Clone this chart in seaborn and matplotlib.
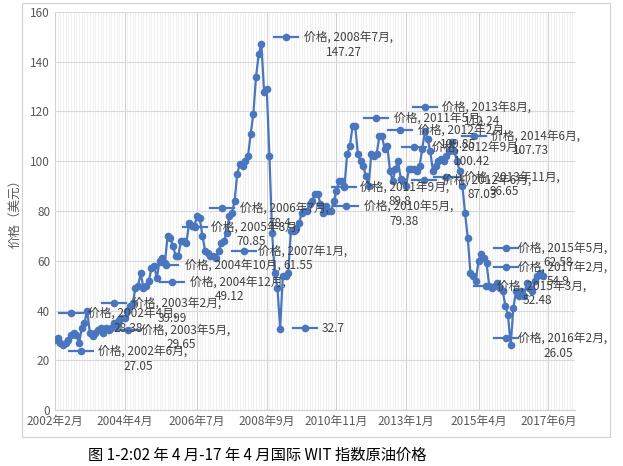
import matplotlib
matplotlib.use("Agg")
import matplotlib.pyplot as plt
from matplotlib import font_manager as fm
import seaborn as sns
import pandas as pd
import numpy as np

for f in fm.findSystemFonts():
    if "NotoSansCJK" in f.replace(" ", "") or "NotoSansSC" in f.replace(" ", ""):
        try:
            fm.fontManager.addfont(f)
        except Exception:
            pass
names = {e.name for e in fm.fontManager.ttflist}
fam = [n for n in ["Noto Sans CJK SC", "Noto Sans CJK JP", "Noto Sans SC"] if n in names]
plt.rcParams["font.family"] = "sans-serif"
plt.rcParams["font.sans-serif"] = fam + ["DejaVu Sans"]

prices = [
    28, 29, 27, 26, 27, 28, 30, 31, 30, 27, 33,
    35, 40, 31, 29.65, 31, 32, 33, 31, 33, 32, 33, 35,
    34, 36, 37, 37, 40, 42, 43, 49, 50, 55, 49, 50,
    52, 57, 58, 53, 60, 61, 59, 70, 69, 66, 62, 62,
    68, 68, 67, 75, 74, 74, 78, 77, 70, 64, 63, 62,
    62, 61, 64, 67, 68, 71, 78, 79, 84, 95, 99, 98,
    100, 102, 111, 119, 134, 143, 147.27, 128, 129, 102, 71, 55,
    49, 32.7, 54, 54, 55, 72, 72, 73, 75, 79, 80, 80,
    83, 84, 87, 87, 83, 79, 82, 80, 80, 84, 88, 92,
    92, 90, 103, 106, 114, 114, 103, 100, 98, 94, 90, 103,
    102, 103, 110, 110, 105, 106, 96, 92, 97, 100, 93, 92,
    90, 97, 97, 97, 96, 98, 105, 112, 109, 104, 96, 98,
    100, 101, 100, 102, 104, 107.73, 104, 100, 96, 90, 79, 69,
    55, 54, 52, 60, 62.58, 61, 59, 50, 49, 50, 51, 49,
    48, 42, 38, 26.05, 41, 48, 46, 48, 46, 51, 49, 48,
    52, 54, 55, 54,
]
tick_labels = ["2002年2月", "2004年4月", "2006年7月", "2008年9月",
               "2010年11月", "2013年1月", "2015年4月", "2017年6月"]
tick_months = [0, 26, 53, 79, 105, 131, 158, 184]
y_ticks = [0, 20, 40, 60, 80, 100, 120, 140, 160]

label_texts = [
    "价格, 2008年7月,\n147.27", "价格, 2013年8月,\n112.24", "价格, 2011年5月,",
    "价格, 2012年2月,\n109.85", "价格, 2014年6月,\n107.73", "价格, 2012年9月,\n100.42",
    "价格, 2013年11月,\n96.65", "价格, 2010年5月,\n79.38", "价格, 2006年7月,\n78.4",
    "价格, 2005年8月,\n70.85", "价格, 2007年1月,\n61.55", "价格, 2004年10月,",
    "价格, 2004年12月,\n49.12", "价格, 2003年2月,\n39.99", "价格, 2002年4月,\n28.38",
    "价格, 2003年5月,\n29.65", "价格, 2002年6月,\n27.05", "32.7",
    "价格, 2015年5月,\n62.58", "价格, 2017年2月,\n54.9", "价格, 2015年3月,\n52.48",
    "价格, 2016年2月,\n26.05", "价格, 2012年6月,\n87.03", "价格, 2011年9月,\n89.8",
]
label_pos = [
    (715, 112, 760), (1062, 320, 1105), (940, 355, 985),
    (1000, 390, 1045), (1185, 407, 1228), (1035, 440, 1080),
    (1115, 530, 1160), (865, 618, 910), (555, 625, 600),
    (488, 680, 528), (610, 752, 645), (415, 795, 462),
    (430, 845, 475), (285, 910, 330), (178, 940, 220),
    (320, 990, 352), (203, 1053, 245), (762, 985, 805),
    (1265, 743, 1295), (1265, 800, 1295), (1215, 857, 1243),
    (1265, 1015, 1295), (1060, 540, 1105), (860, 560, 900),
]

W, H = 623, 466
fig = plt.figure(figsize=(W / 100, H / 100), dpi=100)
L, R, T, B = 55, 575, 12, 410
ax = fig.add_axes([L / W, 1 - B / H, (R - L) / W, (B - T) / H])

df = pd.DataFrame({"m": np.arange(len(prices)), "price": prices})
color = "#4A76BE"
sns.lineplot(data=df, x="m", y="price", ax=ax, color=color, lw=1.6,
             marker="o", markersize=5.5, markeredgewidth=0, zorder=3)

ax.set_xlim(0, 194)
ax.set_ylim(0, 160)
ax.set_yticks(y_ticks)
ax.set_xticks(tick_months)
ax.set_xticklabels(tick_labels, fontsize=8.5, color="#595959")
ax.set_xticks(np.arange(0, 194), minor=True)
ax.tick_params(axis="y", labelsize=8.5, colors="#595959", length=0)
ax.tick_params(axis="x", which="both", length=0)
ax.grid(True, axis="y", color="#d9d9d9", lw=0.8)
ax.grid(True, axis="x", which="major", color="#d0d0d0", lw=0.8)
ax.grid(True, axis="x", which="minor", color="#ececec", lw=0.5)
ax.set_axisbelow(True)
for s in ["top", "right", "left"]:
    ax.spines[s].set_visible(False)
ax.spines["bottom"].set_color("#d0d0d0")
ax.set_xlabel("")
ax.set_ylabel("价格（美元）", fontsize=9, color="#595959", labelpad=6)

for txt, (kx, ky, tx) in zip(label_texts, label_pos):
    fx, fy = kx / 2.5 / W, 1 - ky / 3 / H
    fig.add_artist(plt.Line2D([fx - 12 / W, fx + 12 / W], [fy, fy], color=color, lw=1.6,
                              transform=fig.transFigure, zorder=4))
    fig.add_artist(plt.Line2D([fx], [fy], color=color, marker="o", ms=5.5, mew=0,
                              transform=fig.transFigure, zorder=4))
    lines = txt.split("\n")
    fig.text(tx / 2.5 / W, fy, lines[0], fontsize=8.5, color="#404040",
             va="center", ha="left", zorder=5)
    if len(lines) > 1:
        fig.text((tx / 2.5 + 40) / W, fy - 15 / H, lines[1], fontsize=8.5,
                 color="#404040", va="center", ha="center", zorder=5)

fig.add_artist(plt.Rectangle((22 / W, 1 - 437 / H), 588 / W, 434 / H, fill=False,
                             ec="#d0d0d0", lw=0.8, transform=fig.transFigure))
fig.text(88 / W, 1 - 455 / H, "图 1-2:02 年 4 月-17 年 4 月国际 WIT 指数原油价格",
         fontsize=11, color="black", va="center", ha="left")

fig.savefig("out.png", dpi=100)
